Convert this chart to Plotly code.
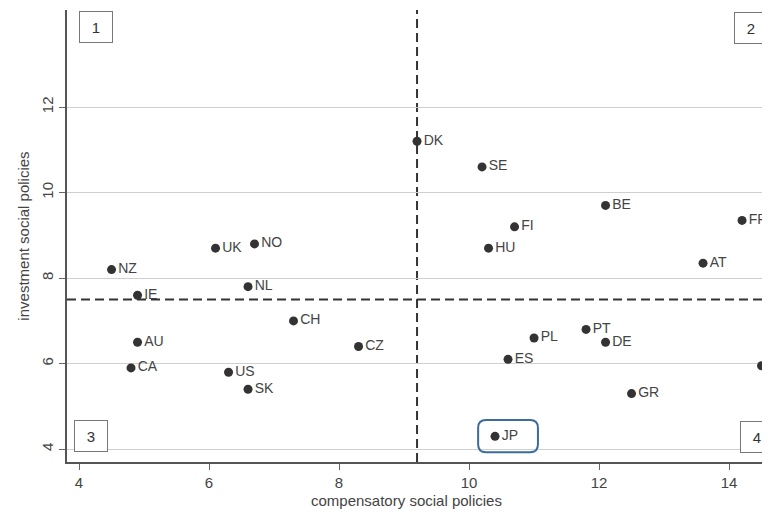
import plotly.graph_objects as go

countries = ["DK", "SE", "BE", "FR", "FI", "HU", "AT", "UK", "NO", "NZ", "IE", "NL",
             "CH", "CZ", "AU", "CA", "US", "SK", "PL", "ES", "PT", "DE", "GR", "JP", ""]
compensatory = [9.2, 10.2, 12.1, 14.2, 10.7, 10.3, 13.6, 6.1, 6.7, 4.5, 4.9, 6.6,
                7.3, 8.3, 4.9, 4.8, 6.3, 6.6, 11.0, 10.6, 11.8, 12.1, 12.5, 10.4, 14.5]
investment = [11.2, 10.6, 9.7, 9.35, 9.2, 8.7, 8.35, 8.7, 8.8, 8.2, 7.6, 7.8,
              7.0, 6.4, 6.5, 5.9, 5.8, 5.4, 6.6, 6.1, 6.8, 6.5, 5.3, 4.3, 5.95]
mean_comp = 9.2
mean_inv = 7.5
x_ticks = [4, 6, 8, 10, 12, 14]
y_ticks = [4, 6, 8, 10, 12]
quadrants = ["1", "2", "3", "4"]

FONT = "Liberation Sans, Arial, sans-serif"
OFF = 8  # default page body margin
W, H = 770 - OFF, 514 - OFF
L, T, B = 67, 10, 52  # in page pixels
xr = [3.815, 14.63]
yr = [3.70, 14.27]

fig = go.Figure()
fig.add_trace(go.Scatter(
    x=compensatory, y=investment, mode="markers+text", text=countries,
    textposition="middle right", cliponaxis=False,
    marker=dict(size=9, color="#333333"),
    textfont=dict(family=FONT, size=14, color="#444444"),
    hoverinfo="x+y", showlegend=False))

# mean lines
fig.add_shape(type="line", xref="x", yref="paper", x0=mean_comp, x1=mean_comp, y0=0, y1=1,
              line=dict(color="#333333", width=2, dash="9px,5px"), layer="below")
fig.add_shape(type="line", xref="paper", yref="y", x0=0, x1=1, y0=mean_inv, y1=mean_inv,
              line=dict(color="#333333", width=2, dash="9px,5px"), layer="below")

# JP highlight box (rounded)
jx, jy = compensatory[countries.index("JP")], investment[countries.index("JP")]
x0, x1 = jx - 0.26, jx + 0.66
y0, y1 = jy - 0.37, jy + 0.38
rx, ry = 0.12, 0.18
path = (f"M {x0+rx},{y0} L {x1-rx},{y0} Q {x1},{y0} {x1},{y0+ry} L {x1},{y1-ry} "
        f"Q {x1},{y1} {x1-rx},{y1} L {x0+rx},{y1} Q {x0},{y1} {x0},{y1-ry} "
        f"L {x0},{y0+ry} Q {x0},{y0} {x0+rx},{y0} Z")
fig.add_shape(type="path", path=path, xref="x", yref="y",
              line=dict(color="#3b6c9c", width=2), fillcolor="rgba(0,0,0,0)")

# quadrant boxes (positions in page pixels)
pw, ph = 770 - L, 514 - T - B
qpos = [(96, 27), (751, 28), (91, 436), (757, 437)]
for q, (px, py) in zip(quadrants, qpos):
    fig.add_annotation(x=(px - L) / pw, y=(514 - B - py) / ph, xref="paper", yref="paper",
                       xanchor="center", yanchor="middle",
                       text=q, showarrow=False, width=22, height=20, borderpad=5,
                       bordercolor="#777777", borderwidth=1, bgcolor="white",
                       font=dict(family=FONT, size=15, color="#333333"))

# x-axis title
fig.add_annotation(x=(406 - L) / pw, y=0, xref="paper", yref="paper", yshift=-38,
                   xanchor="center", yanchor="middle",
                   text="compensatory social policies", showarrow=False,
                   font=dict(family=FONT, size=15, color="#444444"))

fig.update_layout(
    width=W, height=H, margin=dict(l=L - OFF, r=0, t=T - OFF, b=B),
    paper_bgcolor="white", plot_bgcolor="white",
    font=dict(family=FONT, color="#444444"),
    xaxis=dict(range=xr, tickvals=x_ticks, showgrid=False, zeroline=False,
               showline=True, linecolor="#555555", linewidth=1.5,
               ticks="outside", ticklen=6, tickcolor="#666666",
               tickfont=dict(family=FONT, size=15, color="#444444")),
    yaxis=dict(range=yr, tickvals=y_ticks, showgrid=True, gridcolor="#cfcfcf", gridwidth=1,
               zeroline=False, showline=True, linecolor="#555555", linewidth=1.5,
               ticks="outside", ticklen=6, tickcolor="#666666", tickangle=-90,
               tickfont=dict(family=FONT, size=15, color="#444444"),
               title=dict(text="investment social policies", standoff=6,
                          font=dict(family=FONT, size=15, color="#444444"))),
)

fig.write_html("out.html")
